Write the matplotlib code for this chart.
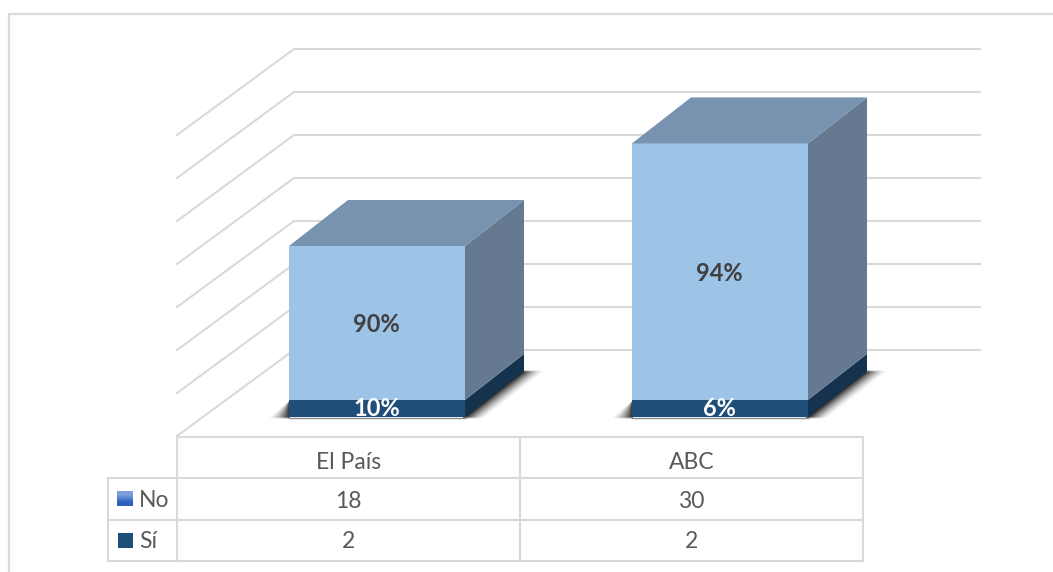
# Stacked 3D column chart with a data table underneath
import numpy as np
import matplotlib
matplotlib.use("Agg")
import matplotlib.pyplot as plt

plt.rcParams['font.family'] = ['Lato', 'DejaVu Sans']

# Data
categories = ["El País", "ABC"]
series_names = ["No", "Sí"]
no_values = [18, 30]
si_values = [2, 2]
no_labels = ["90%", "94%"]
si_labels = ["10%", "6%"]
grid_values = [0, 5, 10, 15, 20, 25, 30, 35]

# Colours
GRID = "#d9d9d9"
NO_FRONT, NO_TOP, NO_SIDE = "#9dc3e6", "#7893b0", "#657a91"
SI_FRONT, SI_SIDE = "#1f4e79", "#15324f"
TEXT = "#595959"

# Layout in pixels
PX_PER_UNIT = 8.55
GRID_PX_PER_UNIT = 8.6
BASE_Y = 417
DEPTH_X, DEPTH_Y = 59, 46
BAR_LEFTS = [289, 632]
BAR_WIDTH = 176
WALL_LEFT, WALL_BACK, WALL_RIGHT = 177, 294, 980
FLOOR_FRONT, FLOOR_BACK = 436, 350
TABLE_X = [177, 520, 863]
TABLE_Y = [437, 478, 520, 561]
LEGEND_LEFT = 108


def put_shadow(ax, alpha, x0, x1, y0, y1):
    rgba = np.zeros(alpha.shape + (4,))
    rgba[..., 3] = alpha
    ax.imshow(rgba, extent=(x0, x1, y1, y0), aspect="auto", interpolation="bilinear", zorder=2)


def draw_shadow(ax, right):
    # soft shadow along the lower edge of the side face
    x0, x1 = right - 2, right + DEPTH_X + 26
    y0, y1 = BASE_Y - DEPTH_Y - 3, BASE_Y + 4
    xx, yy = np.meshgrid(np.arange(x0, x1) + 0.5, np.arange(y0, y1) + 0.5)
    edge_x = right + (BASE_Y - yy) * DEPTH_X / DEPTH_Y
    dist = (xx - edge_x) * 0.61
    alpha = 0.85 * np.clip(1 - dist / 13, 0, 1) ** 1.5 * (dist > -1)
    alpha *= np.clip((yy - (BASE_Y - DEPTH_Y - 1)) / 2, 0, 1)
    alpha *= np.clip((BASE_Y + 2 - yy) / 2, 0, 1)
    put_shadow(ax, alpha, x0, x1, y0, y1)


def draw_left_shadow(ax, x):
    x0, x1 = x - 24, x + 1
    y0, y1 = BASE_Y - 18, BASE_Y + 4
    xx, yy = np.meshgrid(np.arange(x0, x1) + 0.5, np.arange(y0, y1) + 0.5)
    reach = np.clip((yy - (BASE_Y - 16)) * 21 / 16, 0.01, 21)
    alpha = 0.8 * np.clip(1 - (x - xx) / reach, 0, 1) ** 1.5
    alpha *= np.clip((BASE_Y + 2 - yy) / 2, 0, 1)
    put_shadow(ax, alpha, x0, x1, y0, y1)


def draw_box(ax, x, bottom, top, front, side, roof=None, zorder=3):
    right = x + BAR_WIDTH
    ax.fill([x, right, right, x], [bottom, bottom, top, top], color=front, lw=0, zorder=zorder)
    ax.fill([right, right + DEPTH_X, right + DEPTH_X, right],
            [bottom, bottom - DEPTH_Y, top - DEPTH_Y, top], color=side, lw=0, zorder=zorder)
    if roof:
        ax.fill([x, right, right + DEPTH_X, x + DEPTH_X],
                [top, top, top - DEPTH_Y, top - DEPTH_Y], color=roof, lw=0, zorder=zorder)


fig = plt.figure(figsize=(10.53, 5.72), dpi=100)
ax = fig.add_axes([0, 0, 1, 1])

# Chart frame, only left and top are inside the picture
ax.plot([9, 9, 1053], [572, 14, 14], color=GRID, lw=1.6, zorder=1)

# Walls and gridlines
for v in grid_values:
    back_y = FLOOR_BACK - v * GRID_PX_PER_UNIT
    front_y = FLOOR_FRONT - v * GRID_PX_PER_UNIT
    ax.plot([WALL_LEFT, WALL_BACK, WALL_RIGHT], [front_y, back_y, back_y], color=GRID, lw=1.5, zorder=1)

# Bars
for i, x in enumerate(BAR_LEFTS):
    si_top = BASE_Y - si_values[i] * PX_PER_UNIT
    no_top = si_top - no_values[i] * PX_PER_UNIT
    draw_shadow(ax, x + BAR_WIDTH)
    draw_left_shadow(ax, x)
    ax.plot([x, x + BAR_WIDTH], [BASE_Y + 0.8, BASE_Y + 0.8], color="#8c8c8c", lw=1, zorder=2)
    draw_box(ax, x, BASE_Y, si_top, SI_FRONT, SI_SIDE)
    draw_box(ax, x, si_top, no_top, NO_FRONT, NO_SIDE, roof=NO_TOP)

    cx = x + BAR_WIDTH / 2
    ax.text(cx - 0.5, (si_top + no_top) / 2 + 1.5, no_labels[i], ha="center", va="center",
            fontsize=17, fontweight="bold", color="#404040", zorder=5)
    ax.text(cx - 0.5, (si_top + BASE_Y) / 2 + 0.5, si_labels[i], ha="center", va="center",
            fontsize=17, fontweight="bold", color="#ffffff", zorder=5)

# Data table
for x in TABLE_X:
    ax.plot([x, x], [TABLE_Y[0], TABLE_Y[-1]], color=GRID, lw=1.5, zorder=1)
ax.plot([TABLE_X[0], TABLE_X[-1]], [TABLE_Y[0], TABLE_Y[0]], color=GRID, lw=1.5, zorder=1)
for y in TABLE_Y[1:]:
    ax.plot([LEGEND_LEFT, TABLE_X[-1]], [y, y], color=GRID, lw=1.5, zorder=1)
ax.plot([LEGEND_LEFT, LEGEND_LEFT], [TABLE_Y[1], TABLE_Y[-1]], color=GRID, lw=1.5, zorder=1)

for i, name in enumerate(categories):
    cx = (TABLE_X[i] + TABLE_X[i + 1]) / 2
    ax.text(cx, (TABLE_Y[0] + TABLE_Y[1]) / 2 + 5, name, ha="center", va="center", fontsize=16.5, color=TEXT)
    ax.text(cx, (TABLE_Y[1] + TABLE_Y[2]) / 2 + 2.5, str(no_values[i]), ha="center", va="center", fontsize=16.5, color=TEXT)
    ax.text(cx, (TABLE_Y[2] + TABLE_Y[3]) / 2 + 1.5, str(si_values[i]), ha="center", va="center", fontsize=16.5, color=TEXT)

# Legend keys in the table, the No key has a vertical gradient
mid_no = (TABLE_Y[1] + TABLE_Y[2]) / 2
gradient = np.array([[[0x7c, 0xa0, 0xdc]], [[0x2f, 0x5f, 0xbd]]], dtype=np.uint8)
ax.imshow(gradient, extent=(117, 133, mid_no + 7.5, mid_no - 7.5), aspect="auto",
          interpolation="bilinear", zorder=3)
ax.text(139, mid_no + 1.5, series_names[0], ha="left", va="center", fontsize=16.5, color=TEXT)

mid_si = (TABLE_Y[2] + TABLE_Y[3]) / 2
ax.fill([118, 133, 133, 118], [mid_si - 7.5, mid_si - 7.5, mid_si + 7.5, mid_si + 7.5],
        color=SI_FRONT, lw=0, zorder=3)
ax.text(139, mid_si + 1.5, series_names[1], ha="left", va="center", fontsize=16.5, color=TEXT)

# imshow resets the limits, so set them last
ax.set_xlim(0, 1053)
ax.set_ylim(572, 0)
ax.axis("off")

fig.savefig("out.png", dpi=100)
